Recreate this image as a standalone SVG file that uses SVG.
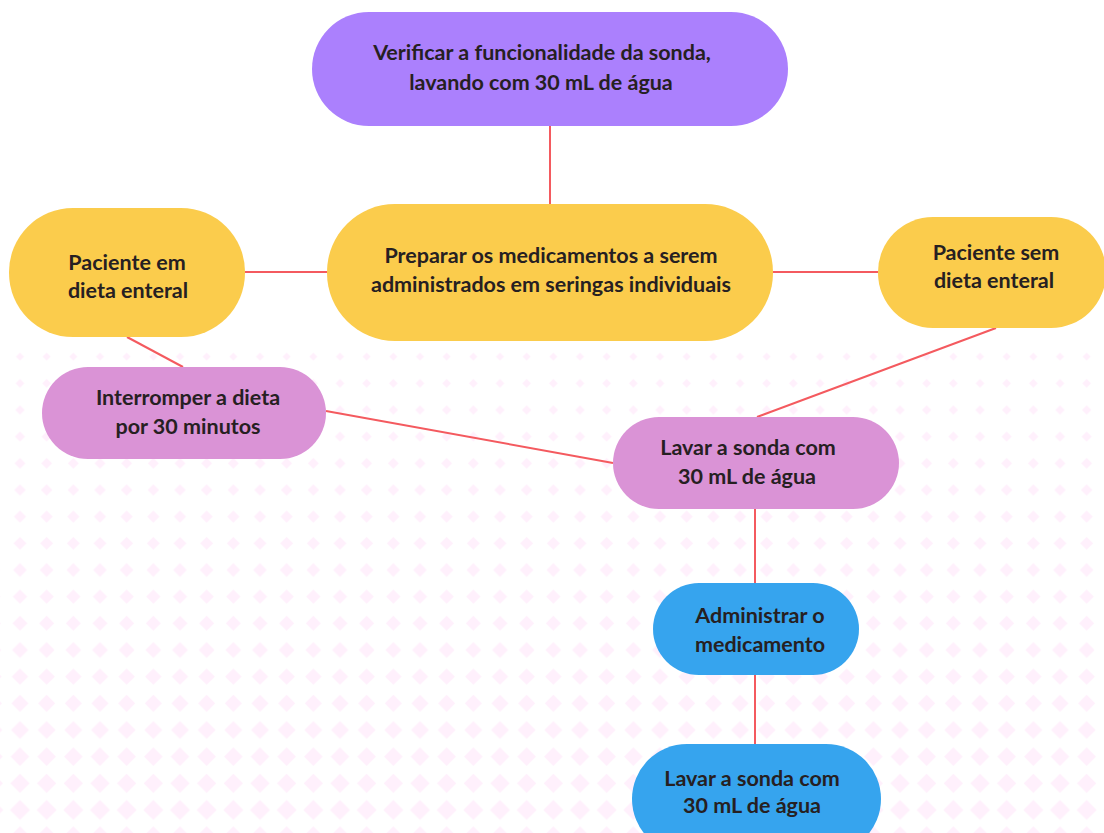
<svg xmlns="http://www.w3.org/2000/svg" width="1104" height="833" viewBox="0 0 1104 833">
<style>
.t{font-family:Lato,"Open Sans","Liberation Sans",sans-serif;font-weight:700;font-size:21.5px;fill:#262022;text-anchor:middle}
.c{stroke:#f45a5f;stroke-width:2;fill:none}
.y{fill:#fbcc4c}.p{fill:#da93d6}.b{fill:#36a4ee}.v{fill:#ab80fd}
.d{fill:#fff0fc}
</style>
<defs>
<pattern id="r0" patternUnits="userSpaceOnUse" x="6.667" y="343.33" width="26.667" height="26.667"><path class="d" d="M13.33 9.33L17.33 13.33L13.33 17.33L9.33 13.33Z"/></pattern>
<pattern id="r1" patternUnits="userSpaceOnUse" x="6.667" y="370" width="26.667" height="26.667"><path class="d" d="M13.33 8.98L17.68 13.33L13.33 17.68L8.98 13.33Z"/></pattern>
<pattern id="r2" patternUnits="userSpaceOnUse" x="6.667" y="396.67" width="26.667" height="26.667"><path class="d" d="M13.33 8.63L18.03 13.33L13.33 18.03L8.63 13.33Z"/></pattern>
<pattern id="r3" patternUnits="userSpaceOnUse" x="6.667" y="423.33" width="26.667" height="26.667"><path class="d" d="M13.33 8.27L18.39 13.33L13.33 18.39L8.27 13.33Z"/></pattern>
<pattern id="r4" patternUnits="userSpaceOnUse" x="6.667" y="450" width="26.667" height="26.667"><path class="d" d="M13.33 7.92L18.74 13.33L13.33 18.74L7.92 13.33Z"/></pattern>
<pattern id="r5" patternUnits="userSpaceOnUse" x="6.667" y="476.67" width="26.667" height="26.667"><path class="d" d="M13.33 7.57L19.09 13.33L13.33 19.09L7.57 13.33Z"/></pattern>
<pattern id="r6" patternUnits="userSpaceOnUse" x="6.667" y="503.33" width="26.667" height="26.667"><path class="d" d="M13.33 7.21L19.45 13.33L13.33 19.45L7.21 13.33Z"/></pattern>
<pattern id="r7" patternUnits="userSpaceOnUse" x="6.667" y="530" width="26.667" height="26.667"><path class="d" d="M13.33 6.86L19.8 13.33L13.33 19.8L6.86 13.33Z"/></pattern>
<pattern id="r8" patternUnits="userSpaceOnUse" x="6.667" y="556.67" width="26.667" height="26.667"><path class="d" d="M13.33 6.51L20.15 13.33L13.33 20.15L6.51 13.33Z"/></pattern>
<pattern id="r9" patternUnits="userSpaceOnUse" x="6.667" y="583.33" width="26.667" height="26.667"><path class="d" d="M13.33 6.15L20.51 13.33L13.33 20.51L6.15 13.33Z"/></pattern>
<pattern id="r10" patternUnits="userSpaceOnUse" x="6.667" y="610" width="26.667" height="26.667"><path class="d" d="M13.33 5.8L20.86 13.33L13.33 20.86L5.8 13.33Z"/></pattern>
<pattern id="r11" patternUnits="userSpaceOnUse" x="6.667" y="636.67" width="26.667" height="26.667"><path class="d" d="M13.33 5.45L21.21 13.33L13.33 21.21L5.45 13.33Z"/></pattern>
<pattern id="r12" patternUnits="userSpaceOnUse" x="6.667" y="663.33" width="26.667" height="26.667"><path class="d" d="M13.33 5.09L21.57 13.33L13.33 21.57L5.09 13.33Z"/></pattern>
<pattern id="r13" patternUnits="userSpaceOnUse" x="6.667" y="690" width="26.667" height="26.667"><path class="d" d="M13.33 4.74L21.92 13.33L13.33 21.92L4.74 13.33Z"/></pattern>
<pattern id="r14" patternUnits="userSpaceOnUse" x="6.667" y="716.67" width="26.667" height="26.667"><path class="d" d="M13.33 4.39L22.27 13.33L13.33 22.27L4.39 13.33Z"/></pattern>
<pattern id="r15" patternUnits="userSpaceOnUse" x="6.667" y="743.33" width="26.667" height="26.667"><path class="d" d="M13.33 4.03L22.63 13.33L13.33 22.63L4.03 13.33Z"/></pattern>
<pattern id="r16" patternUnits="userSpaceOnUse" x="6.667" y="770" width="26.667" height="26.667"><path class="d" d="M13.33 3.68L22.98 13.33L13.33 22.98L3.68 13.33Z"/></pattern>
<pattern id="r17" patternUnits="userSpaceOnUse" x="6.667" y="796.67" width="26.667" height="26.667"><path class="d" d="M13.33 3.33L23.33 13.33L13.33 23.33L3.33 13.33Z"/></pattern>
<pattern id="r18" patternUnits="userSpaceOnUse" x="6.667" y="823.33" width="26.667" height="26.667"><path class="d" d="M13.33 2.97L23.69 13.33L13.33 23.69L2.97 13.33Z"/></pattern>
</defs>
<rect width="1104" height="833" fill="#ffffff"/>
<g id="background">
<rect x="0" y="343.33" width="1104" height="26.67" fill="url(#r0)"/>
<rect x="0" y="370" width="1104" height="26.67" fill="url(#r1)"/>
<rect x="0" y="396.67" width="1104" height="26.67" fill="url(#r2)"/>
<rect x="0" y="423.33" width="1104" height="26.67" fill="url(#r3)"/>
<rect x="0" y="450" width="1104" height="26.67" fill="url(#r4)"/>
<rect x="0" y="476.67" width="1104" height="26.67" fill="url(#r5)"/>
<rect x="0" y="503.33" width="1104" height="26.67" fill="url(#r6)"/>
<rect x="0" y="530" width="1104" height="26.67" fill="url(#r7)"/>
<rect x="0" y="556.67" width="1104" height="26.67" fill="url(#r8)"/>
<rect x="0" y="583.33" width="1104" height="26.67" fill="url(#r9)"/>
<rect x="0" y="610" width="1104" height="26.67" fill="url(#r10)"/>
<rect x="0" y="636.67" width="1104" height="26.67" fill="url(#r11)"/>
<rect x="0" y="663.33" width="1104" height="26.67" fill="url(#r12)"/>
<rect x="0" y="690" width="1104" height="26.67" fill="url(#r13)"/>
<rect x="0" y="716.67" width="1104" height="26.67" fill="url(#r14)"/>
<rect x="0" y="743.33" width="1104" height="26.67" fill="url(#r15)"/>
<rect x="0" y="770" width="1104" height="26.67" fill="url(#r16)"/>
<rect x="0" y="796.67" width="1104" height="26.67" fill="url(#r17)"/>
<rect x="0" y="823.33" width="1104" height="26.67" fill="url(#r18)"/>
</g>
<g id="connectors">
<line class="c" x1="550" y1="126" x2="550" y2="204"/>
<line class="c" x1="245" y1="272" x2="327" y2="272"/>
<line class="c" x1="773" y1="272" x2="878" y2="272"/>
<line class="c" x1="127" y1="337" x2="183" y2="367"/>
<line class="c" x1="996" y1="328" x2="757" y2="417"/>
<line class="c" x1="326" y1="411" x2="613" y2="463"/>
<line class="c" x1="755" y1="509" x2="755" y2="583"/>
<line class="c" x1="755" y1="675" x2="755" y2="744"/>
</g>
<g id="n1"><rect class="v" x="312" y="12" width="476" height="114" rx="57"/>
<text class="t" x="542" y="60">Verificar a funcionalidade da sonda,</text>
<text class="t" x="541" y="90">lavando com 30 mL de água</text></g>
<g id="n2"><rect class="y" x="9" y="208" width="236" height="129" rx="64"/>
<text class="t" x="127" y="270">Paciente em</text>
<text class="t" x="128" y="298">dieta enteral</text></g>
<g id="n3"><rect class="y" x="327" y="204" width="446" height="137" rx="68"/>
<text class="t" x="551" y="263">Preparar os medicamentos a serem</text>
<text class="t" x="551" y="292">administrados em seringas individuais</text></g>
<g id="n4"><rect class="y" x="878" y="217" width="228" height="111" rx="55"/>
<text class="t" x="996" y="260">Paciente sem</text>
<text class="t" x="994" y="288">dieta enteral</text></g>
<g id="n5"><rect class="p" x="42" y="367" width="284" height="92" rx="46"/>
<text class="t" x="188" y="405">Interromper a dieta</text>
<text class="t" x="188" y="434">por 30 minutos</text></g>
<g id="n6"><rect class="p" x="613" y="417" width="286" height="92" rx="46"/>
<text class="t" x="748" y="455">Lavar a sonda com</text>
<text class="t" x="747" y="484">30 mL de água</text></g>
<g id="n7"><rect class="b" x="653" y="583" width="206" height="92" rx="46"/>
<text class="t" x="760" y="623">Administrar o</text>
<text class="t" x="760" y="652">medicamento</text></g>
<g id="n8"><rect class="b" x="632" y="744" width="249" height="110" rx="55"/>
<text class="t" x="752" y="786">Lavar a sonda com</text>
<text class="t" x="752" y="813">30 mL de água</text></g>
</svg>
